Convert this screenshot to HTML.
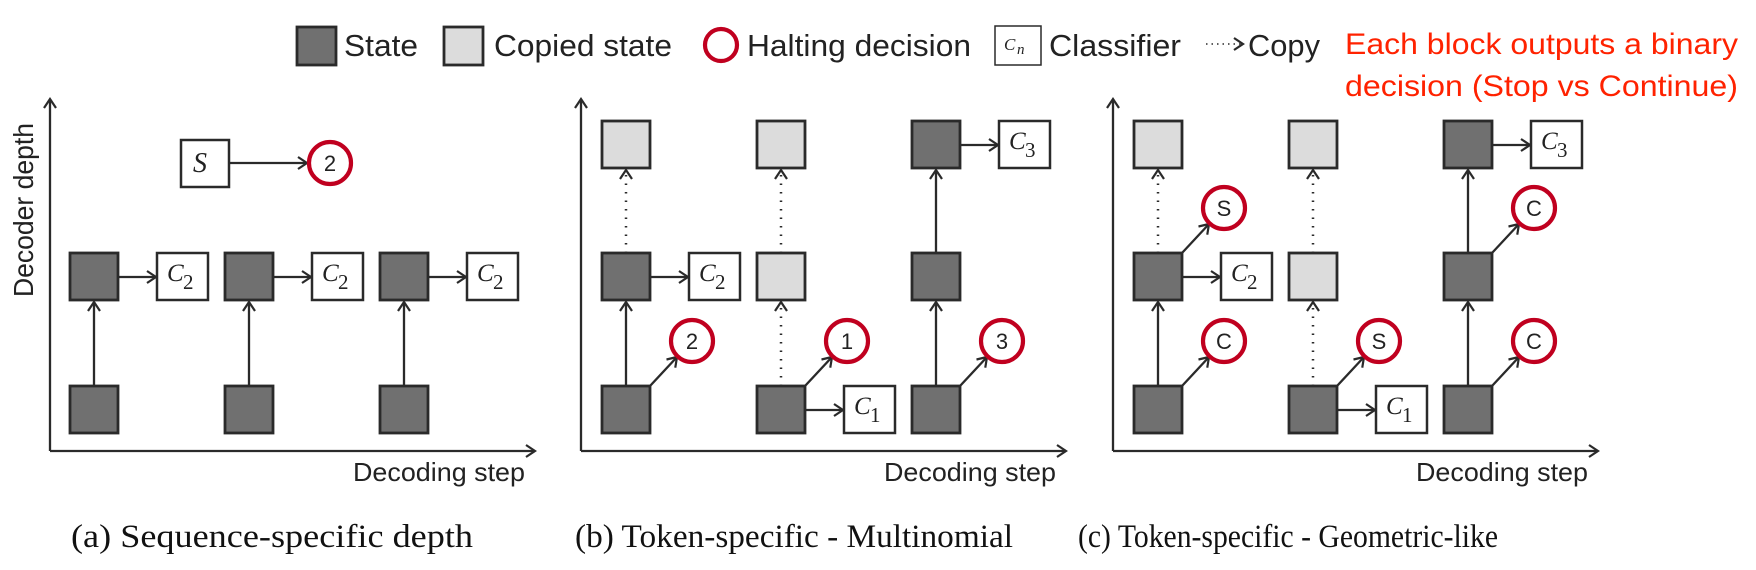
<!DOCTYPE html>
<html><head><meta charset="utf-8"><style>
html,body{margin:0;padding:0;background:#fff;}
svg{display:block;}
.sq{fill:#707070;stroke:#2a2a2a;stroke-width:2.8}
.lt{fill:#dcdcdc;stroke:#2a2a2a;stroke-width:2.8}
.cl{fill:#fff;stroke:#2a2a2a;stroke-width:2.5}
.ln{stroke:#2a2a2a;stroke-width:2.3;fill:none}
.dt{stroke:#2a2a2a;stroke-width:2.5;fill:none;stroke-dasharray:1.5 7}
.hc{fill:#fff;stroke:#c0001f;stroke-width:4.2}
.ht{font-family:"Liberation Sans",sans-serif;font-size:22px;fill:#222;text-anchor:middle}
.ct{font-family:"Liberation Serif",serif;font-style:italic;font-size:25px;fill:#222}
.cs{font-family:"Liberation Serif",serif;font-size:21px;fill:#222}
.lg{font-family:"Liberation Sans",sans-serif;font-size:31px;fill:#222}
.ax{font-family:"Liberation Sans",sans-serif;font-size:26px;fill:#222}
.cap{font-family:"Liberation Serif",serif;font-size:33px;fill:#111}
.red{font-family:"Liberation Sans",sans-serif;font-size:30px;fill:#ff2200}
</style></head><body>
<svg width="1756" height="570" viewBox="0 0 1756 570" xmlns="http://www.w3.org/2000/svg">
<defs>
<marker id="ah" markerWidth="14" markerHeight="14" refX="11" refY="7" orient="auto" markerUnits="userSpaceOnUse">
<path d="M2,1 L11,7 L2,13" fill="none" stroke="#2a2a2a" stroke-width="2.2"/>
</marker>
</defs>

<!-- Legend -->
<rect x="297" y="27" width="39" height="38" class="sq"/>
<text x="344" y="56" class="lg" textLength="74" lengthAdjust="spacingAndGlyphs">State</text>
<rect x="444" y="27" width="39" height="38" class="lt"/>
<text x="494" y="56" class="lg" textLength="178" lengthAdjust="spacingAndGlyphs">Copied state</text>
<circle cx="721" cy="45" r="16" class="hc"/>
<text x="747" y="56" class="lg" textLength="224" lengthAdjust="spacingAndGlyphs">Halting decision</text>
<rect x="995" y="26" width="46" height="39" class="cl" style="stroke-width:1.5"/>
<text x="1004" y="50" class="ct" style="font-size:17px">C</text><text x="1017" y="54" class="ct" style="font-size:15px">n</text>
<text x="1049" y="56" class="lg" textLength="132" lengthAdjust="spacingAndGlyphs">Classifier</text>
<line x1="1206" y1="44" x2="1243" y2="44" class="dt" style="stroke-width:1.5;stroke-dasharray:1.5 4" marker-end="url(#ah)"/>
<text x="1248" y="56" class="lg" textLength="72" lengthAdjust="spacingAndGlyphs">Copy</text>
<text x="1345" y="54" class="red" textLength="393" lengthAdjust="spacingAndGlyphs">Each block outputs a binary</text>
<text x="1345" y="96" class="red" textLength="393" lengthAdjust="spacingAndGlyphs">decision (Stop vs Continue)</text>

<!-- Panel a -->
<line x1="50" y1="451" x2="50" y2="99" class="ln" marker-end="url(#ah)"/>
<line x1="50" y1="451" x2="535" y2="451" class="ln" marker-end="url(#ah)"/>
<text transform="translate(33,210) rotate(-90)" class="ax" text-anchor="middle" style="font-size:28px" textLength="174" lengthAdjust="spacingAndGlyphs">Decoder depth</text>
<text x="353" y="481" class="ax" textLength="172" lengthAdjust="spacingAndGlyphs">Decoding step</text>
<rect x="181" y="140" width="48" height="47" class="cl"/>
<text x="193" y="172" class="ct" style="font-size:28px">S</text>
<line x1="229" y1="163" x2="307" y2="163" class="ln" marker-end="url(#ah)"/>
<circle cx="330" cy="163" r="21" class="hc"/><text x="330" y="171" class="ht">2</text>
<g>
<rect x="70" y="253" width="48" height="47" class="sq"/><rect x="70" y="386" width="48" height="47" class="sq"/>
<line x1="94" y1="386" x2="94" y2="302" class="ln" marker-end="url(#ah)"/>
<line x1="118" y1="277" x2="156" y2="277" class="ln" marker-end="url(#ah)"/>
<rect x="157" y="253" width="51" height="47" class="cl"/><text x="167" y="281" class="ct">C</text><text x="183" y="289" class="cs">2</text>
<rect x="225" y="253" width="48" height="47" class="sq"/><rect x="225" y="386" width="48" height="47" class="sq"/>
<line x1="249" y1="386" x2="249" y2="302" class="ln" marker-end="url(#ah)"/>
<line x1="273" y1="277" x2="311" y2="277" class="ln" marker-end="url(#ah)"/>
<rect x="312" y="253" width="51" height="47" class="cl"/><text x="322" y="281" class="ct">C</text><text x="338" y="289" class="cs">2</text>
<rect x="380" y="253" width="48" height="47" class="sq"/><rect x="380" y="386" width="48" height="47" class="sq"/>
<line x1="404" y1="386" x2="404" y2="302" class="ln" marker-end="url(#ah)"/>
<line x1="428" y1="277" x2="466" y2="277" class="ln" marker-end="url(#ah)"/>
<rect x="467" y="253" width="51" height="47" class="cl"/><text x="477" y="281" class="ct">C</text><text x="493" y="289" class="cs">2</text>
</g>
<text x="71" y="547" class="cap" textLength="402" lengthAdjust="spacingAndGlyphs">(a) Sequence-specific depth</text>

<!-- Panel b -->
<line x1="581" y1="451" x2="581" y2="99" class="ln" marker-end="url(#ah)"/>
<line x1="581" y1="451" x2="1066" y2="451" class="ln" marker-end="url(#ah)"/>
<text x="884" y="481" class="ax" textLength="172" lengthAdjust="spacingAndGlyphs">Decoding step</text>
<rect x="602" y="121" width="48" height="47" class="lt"/>
<rect x="602" y="253" width="48" height="47" class="sq"/>
<rect x="602" y="386" width="48" height="47" class="sq"/>
<line x1="626" y1="386" x2="626" y2="302" class="ln" marker-end="url(#ah)"/>
<line x1="626" y1="253" x2="626" y2="170" class="dt" marker-end="url(#ah)"/>
<line x1="650" y1="277" x2="688" y2="277" class="ln" marker-end="url(#ah)"/>
<rect x="689" y="253" width="51" height="47" class="cl"/><text x="699" y="281" class="ct">C</text><text x="715" y="289" class="cs">2</text>
<line x1="650" y1="386" x2="677" y2="357" class="ln" marker-end="url(#ah)"/>
<circle cx="692" cy="341" r="21" class="hc"/><text x="692" y="349" class="ht">2</text>
<rect x="757" y="121" width="48" height="47" class="lt"/>
<rect x="757" y="253" width="48" height="47" class="lt"/>
<rect x="757" y="386" width="48" height="47" class="sq"/>
<line x1="781" y1="386" x2="781" y2="302" class="dt" marker-end="url(#ah)"/>
<line x1="781" y1="253" x2="781" y2="170" class="dt" marker-end="url(#ah)"/>
<line x1="805" y1="410" x2="843" y2="410" class="ln" marker-end="url(#ah)"/>
<rect x="844" y="386" width="51" height="47" class="cl"/><text x="854" y="414" class="ct">C</text><text x="870" y="422" class="cs">1</text>
<line x1="805" y1="386" x2="832" y2="357" class="ln" marker-end="url(#ah)"/>
<circle cx="847" cy="341" r="21" class="hc"/><text x="847" y="349" class="ht">1</text>
<rect x="912" y="121" width="48" height="47" class="sq"/>
<rect x="912" y="253" width="48" height="47" class="sq"/>
<rect x="912" y="386" width="48" height="47" class="sq"/>
<line x1="936" y1="386" x2="936" y2="302" class="ln" marker-end="url(#ah)"/>
<line x1="936" y1="253" x2="936" y2="170" class="ln" marker-end="url(#ah)"/>
<line x1="960" y1="145" x2="998" y2="145" class="ln" marker-end="url(#ah)"/>
<rect x="999" y="121" width="51" height="47" class="cl"/><text x="1009" y="149" class="ct">C</text><text x="1025" y="157" class="cs">3</text>
<line x1="960" y1="386" x2="987" y2="357" class="ln" marker-end="url(#ah)"/>
<circle cx="1002" cy="341" r="21" class="hc"/><text x="1002" y="349" class="ht">3</text>
<text x="575" y="547" class="cap" textLength="438" lengthAdjust="spacingAndGlyphs">(b) Token-specific - Multinomial</text>

<!-- Panel c -->
<line x1="1113" y1="451" x2="1113" y2="99" class="ln" marker-end="url(#ah)"/>
<line x1="1113" y1="451" x2="1598" y2="451" class="ln" marker-end="url(#ah)"/>
<text x="1416" y="481" class="ax" textLength="172" lengthAdjust="spacingAndGlyphs">Decoding step</text>
<rect x="1134" y="121" width="48" height="47" class="lt"/>
<rect x="1134" y="253" width="48" height="47" class="sq"/>
<rect x="1134" y="386" width="48" height="47" class="sq"/>
<line x1="1158" y1="386" x2="1158" y2="302" class="ln" marker-end="url(#ah)"/>
<line x1="1158" y1="253" x2="1158" y2="170" class="dt" marker-end="url(#ah)"/>
<line x1="1182" y1="277" x2="1220" y2="277" class="ln" marker-end="url(#ah)"/>
<rect x="1221" y="253" width="51" height="47" class="cl"/><text x="1231" y="281" class="ct">C</text><text x="1247" y="289" class="cs">2</text>
<line x1="1182" y1="253" x2="1209" y2="224" class="ln" marker-end="url(#ah)"/>
<circle cx="1224" cy="208" r="21" class="hc"/><text x="1224" y="216" class="ht">S</text>
<line x1="1182" y1="386" x2="1209" y2="357" class="ln" marker-end="url(#ah)"/>
<circle cx="1224" cy="341" r="21" class="hc"/><text x="1224" y="349" class="ht">C</text>
<rect x="1289" y="121" width="48" height="47" class="lt"/>
<rect x="1289" y="253" width="48" height="47" class="lt"/>
<rect x="1289" y="386" width="48" height="47" class="sq"/>
<line x1="1313" y1="386" x2="1313" y2="302" class="dt" marker-end="url(#ah)"/>
<line x1="1313" y1="253" x2="1313" y2="170" class="dt" marker-end="url(#ah)"/>
<line x1="1337" y1="410" x2="1375" y2="410" class="ln" marker-end="url(#ah)"/>
<rect x="1376" y="386" width="51" height="47" class="cl"/><text x="1386" y="414" class="ct">C</text><text x="1402" y="422" class="cs">1</text>
<line x1="1337" y1="386" x2="1364" y2="357" class="ln" marker-end="url(#ah)"/>
<circle cx="1379" cy="341" r="21" class="hc"/><text x="1379" y="349" class="ht">S</text>
<rect x="1444" y="121" width="48" height="47" class="sq"/>
<rect x="1444" y="253" width="48" height="47" class="sq"/>
<rect x="1444" y="386" width="48" height="47" class="sq"/>
<line x1="1468" y1="386" x2="1468" y2="302" class="ln" marker-end="url(#ah)"/>
<line x1="1468" y1="253" x2="1468" y2="170" class="ln" marker-end="url(#ah)"/>
<line x1="1492" y1="145" x2="1530" y2="145" class="ln" marker-end="url(#ah)"/>
<rect x="1531" y="121" width="51" height="47" class="cl"/><text x="1541" y="149" class="ct">C</text><text x="1557" y="157" class="cs">3</text>
<line x1="1492" y1="253" x2="1519" y2="224" class="ln" marker-end="url(#ah)"/>
<circle cx="1534" cy="208" r="21" class="hc"/><text x="1534" y="216" class="ht">C</text>
<line x1="1492" y1="386" x2="1519" y2="357" class="ln" marker-end="url(#ah)"/>
<circle cx="1534" cy="341" r="21" class="hc"/><text x="1534" y="349" class="ht">C</text>
<text x="1078" y="547" class="cap" textLength="420" lengthAdjust="spacingAndGlyphs">(c) Token-specific - Geometric-like</text>
</svg>
</body></html>
